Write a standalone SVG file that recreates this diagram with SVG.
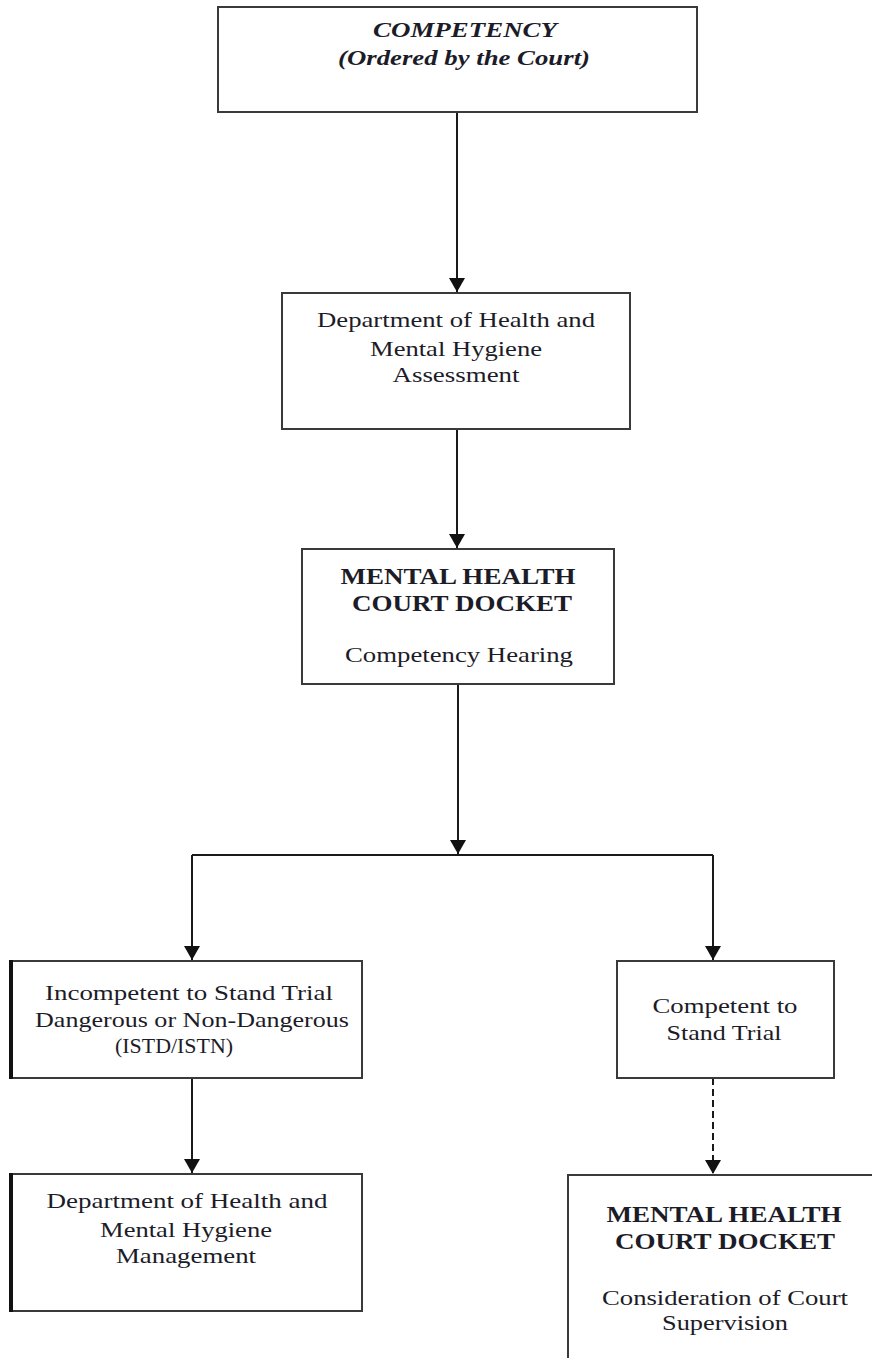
<svg xmlns="http://www.w3.org/2000/svg" width="872" height="1358" viewBox="0 0 872 1358">
  <style>
    .box { fill: #ffffff; stroke: #3a3a3a; stroke-width: 2; }
    .thick { stroke: #111; stroke-width: 4; }
    .t { font-family: "Liberation Serif", "Times New Roman", serif; font-size: 21px; fill: #1c1c28; text-anchor: middle; }
    .b { font-weight: bold; font-size: 23px; }
    .bi { font-weight: bold; font-style: italic; font-size: 21px; }
    .conn { fill: none; stroke: #1a1a1a; stroke-width: 2; }
    .dash { stroke-dasharray: 7 4; }
  </style>
  <defs>
    <marker id="arrow" viewBox="0 0 14 16" refX="14" refY="8" markerWidth="14" markerHeight="16" markerUnits="userSpaceOnUse" orient="auto">
      <path d="M0,0 L14,8 L0,16 z" fill="#111"/>
    </marker>
  </defs>

  <g id="connectors">
    <path class="conn" d="M457,112 V292" marker-end="url(#arrow)"/>
    <path class="conn" d="M457,429 V548" marker-end="url(#arrow)"/>
    <path class="conn" d="M458,684 V854" marker-end="url(#arrow)"/>
    <path class="conn" d="M192,855 H713"/>
    <path class="conn" d="M192,855 V960" marker-end="url(#arrow)"/>
    <path class="conn" d="M713,855 V960" marker-end="url(#arrow)"/>
    <path class="conn" d="M192,1078 V1173" marker-end="url(#arrow)"/>
    <path class="conn dash" d="M713,1078 V1174" marker-end="url(#arrow)"/>
  </g>

  <g id="competency">
    <rect class="box" x="218" y="7" width="479" height="105"/>
    <text class="t bi" x="465" y="37" textLength="184" lengthAdjust="spacingAndGlyphs">COMPETENCY</text>
    <text class="t bi" x="464" y="65" textLength="252" lengthAdjust="spacingAndGlyphs">(Ordered by the Court)</text>
  </g>

  <g id="dhmh-assessment">
    <rect class="box" x="282" y="293" width="348" height="136"/>
    <text class="t" x="456" y="327" textLength="278" lengthAdjust="spacingAndGlyphs">Department of Health and</text>
    <text class="t" x="456" y="356" textLength="172" lengthAdjust="spacingAndGlyphs">Mental Hygiene</text>
    <text class="t" x="456" y="382" textLength="127" lengthAdjust="spacingAndGlyphs">Assessment</text>
  </g>

  <g id="mh-court-hearing">
    <rect class="box" x="302" y="549" width="312" height="135"/>
    <text class="t b" x="458" y="584" textLength="235" lengthAdjust="spacingAndGlyphs">MENTAL HEALTH</text>
    <text class="t b" x="462" y="611" textLength="220" lengthAdjust="spacingAndGlyphs">COURT DOCKET</text>
    <text class="t" x="459" y="662" textLength="228" lengthAdjust="spacingAndGlyphs">Competency Hearing</text>
  </g>

  <g id="incompetent">
    <rect class="box" x="11" y="961" width="351" height="117"/>
    <line class="thick" x1="11" y1="960" x2="11" y2="1079"/>
    <text class="t" x="189" y="1000" textLength="288" lengthAdjust="spacingAndGlyphs">Incompetent to Stand Trial</text>
    <text class="t" x="192" y="1027" textLength="314" lengthAdjust="spacingAndGlyphs">Dangerous or Non-Dangerous</text>
    <text class="t" x="174" y="1053" textLength="118" lengthAdjust="spacingAndGlyphs">(ISTD/ISTN)</text>
  </g>

  <g id="competent">
    <rect class="box" x="617" y="961" width="217" height="117"/>
    <text class="t" x="725" y="1013" textLength="145" lengthAdjust="spacingAndGlyphs">Competent to</text>
    <text class="t" x="724" y="1040" textLength="115" lengthAdjust="spacingAndGlyphs">Stand Trial</text>
  </g>

  <g id="dhmh-management">
    <rect class="box" x="11" y="1174" width="351" height="137"/>
    <line class="thick" x1="11" y1="1173" x2="11" y2="1312"/>
    <text class="t" x="187" y="1208" textLength="281" lengthAdjust="spacingAndGlyphs">Department of Health and</text>
    <text class="t" x="186" y="1237" textLength="172" lengthAdjust="spacingAndGlyphs">Mental Hygiene</text>
    <text class="t" x="186" y="1263" textLength="140" lengthAdjust="spacingAndGlyphs">Management</text>
  </g>

  <g id="mh-court-supervision">
    <path class="box" d="M568,1370 V1175 H880"/>
    <text class="t b" x="724" y="1222" textLength="235" lengthAdjust="spacingAndGlyphs">MENTAL HEALTH</text>
    <text class="t b" x="725" y="1249" textLength="220" lengthAdjust="spacingAndGlyphs">COURT DOCKET</text>
    <text class="t" x="725" y="1305" textLength="246" lengthAdjust="spacingAndGlyphs">Consideration of Court</text>
    <text class="t" x="725" y="1330" textLength="126" lengthAdjust="spacingAndGlyphs">Supervision</text>
  </g>
</svg>
